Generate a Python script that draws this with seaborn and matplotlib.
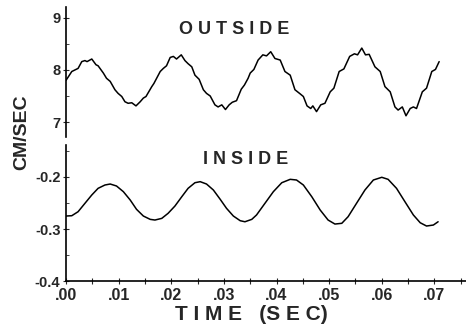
import pandas as pd
import seaborn as sns
import matplotlib.pyplot as plt
from matplotlib.ticker import MultipleLocator, FixedLocator

# Values
outside_t = [0.0000, 0.0011, 0.0019, 0.0023, 0.0030, 0.0036, 0.0040, 0.0049, 0.0057, 0.0061,
             0.0071, 0.0077, 0.0084, 0.0093, 0.0099, 0.0106, 0.0112, 0.0118, 0.0125, 0.0133,
             0.0141, 0.0147, 0.0152, 0.0163, 0.0167, 0.0179, 0.0185, 0.0191, 0.0198, 0.0204,
             0.0210, 0.0219, 0.0226, 0.0232, 0.0239, 0.0245, 0.0253, 0.0261, 0.0267, 0.0274,
             0.0283, 0.0289, 0.0296, 0.0303, 0.0310, 0.0316, 0.0324, 0.0333, 0.0339, 0.0346,
             0.0350, 0.0357, 0.0365, 0.0374, 0.0381, 0.0389, 0.0397, 0.0407, 0.0416, 0.0426,
             0.0435, 0.0445, 0.0451, 0.0458, 0.0465, 0.0469, 0.0476, 0.0484, 0.0492, 0.0502,
             0.0509, 0.0519, 0.0528, 0.0539, 0.0548, 0.0554, 0.0562, 0.0569, 0.0576, 0.0587,
             0.0597, 0.0606, 0.0616, 0.0625, 0.0631, 0.0639, 0.0646, 0.0654, 0.0660, 0.0666,
             0.0677, 0.0685, 0.0695, 0.0702, 0.0709]
outside_v = [7.80, 7.97, 8.01, 8.03, 8.16, 8.18, 8.16, 8.21, 8.10, 8.08,
             7.94, 7.84, 7.78, 7.62, 7.55, 7.49, 7.39, 7.36, 7.37, 7.31,
             7.39, 7.46, 7.49, 7.68, 7.74, 7.97, 8.03, 8.08, 8.24, 8.26,
             8.21, 8.29, 8.18, 8.12, 8.06, 7.90, 7.82, 7.62, 7.55, 7.50,
             7.33, 7.29, 7.33, 7.24, 7.33, 7.38, 7.41, 7.63, 7.71, 7.84,
             7.94, 8.01, 8.19, 8.29, 8.27, 8.35, 8.22, 8.19, 7.97, 7.90,
             7.62, 7.54, 7.49, 7.31, 7.26, 7.31, 7.20, 7.33, 7.36, 7.58,
             7.65, 7.97, 8.02, 8.26, 8.31, 8.29, 8.42, 8.29, 8.30, 8.06,
             7.97, 7.68, 7.58, 7.29, 7.23, 7.29, 7.12, 7.26, 7.29, 7.26,
             7.58, 7.65, 7.97, 8.01, 8.16]

inside_t = [0.0000, 0.0011, 0.0023, 0.0036, 0.0049, 0.0061, 0.0074, 0.0084, 0.0096, 0.0109,
            0.0122, 0.0134, 0.0147, 0.0160, 0.0169, 0.0182, 0.0194, 0.0207, 0.0220, 0.0232,
            0.0245, 0.0255, 0.0267, 0.0280, 0.0293, 0.0305, 0.0318, 0.0331, 0.0340, 0.0353,
            0.0362, 0.0378, 0.0394, 0.0410, 0.0426, 0.0438, 0.0451, 0.0467, 0.0483, 0.0498,
            0.0511, 0.0524, 0.0536, 0.0552, 0.0568, 0.0584, 0.0600, 0.0612, 0.0628, 0.0644,
            0.0660, 0.0673, 0.0685, 0.0698, 0.0707]
inside_v = [-0.275, -0.2744, -0.2667, -0.2506, -0.2346, -0.2218, -0.2154, -0.2135, -0.2173, -0.2282,
            -0.2442, -0.2621, -0.275, -0.2814, -0.2827, -0.2795, -0.2698, -0.2558, -0.2379, -0.2218,
            -0.211, -0.209, -0.2135, -0.225, -0.2429, -0.2602, -0.275, -0.284, -0.286, -0.2814,
            -0.273, -0.2506, -0.2282, -0.211, -0.2045, -0.2058, -0.2154, -0.2379, -0.2635, -0.2827,
            -0.2904, -0.289, -0.2763, -0.2506, -0.225, -0.2058, -0.2006, -0.2045, -0.2218, -0.2475,
            -0.273, -0.2879, -0.2942, -0.2923, -0.286]

x_ticks = [0.00, 0.01, 0.02, 0.03, 0.04, 0.05, 0.06, 0.07]
x_labels = ['.00', '.01', '.02', '.03', '.04', '.05', '.06', '.07']

sns.set_style("white")
plt.rcParams['font.family'] = ['Liberation Sans Narrow', 'Liberation Sans', 'DejaVu Sans']
plt.rcParams['font.weight'] = 'bold'

fig = plt.figure(figsize=(4.66, 3.28), dpi=100)
ax_top = fig.add_axes([0.1416, 0.583, 0.8584, 0.397])
ax_bot = fig.add_axes([0.1416, 0.143, 0.8584, 0.415])

df_out = pd.DataFrame({'t': outside_t, 'v': outside_v})
df_in = pd.DataFrame({'t': inside_t, 'v': inside_v})
sns.lineplot(data=df_out, x='t', y='v', ax=ax_top, color='black', lw=1.1, sort=False)
sns.lineplot(data=df_in, x='t', y='v', ax=ax_bot, color='black', lw=1.1, sort=False)

for ax in (ax_top, ax_bot):
    ax.set_xlim(0, 0.076)
    ax.set_xlabel('')
    ax.set_ylabel('')
    for s in ('top', 'right'):
        ax.spines[s].set_visible(False)
    ax.spines['left'].set_color('black')
    ax.spines['left'].set_linewidth(1.2)
    ax.patch.set_alpha(0)

ax_top.set_ylim(6.717, 9.217)
ax_top.spines['bottom'].set_visible(False)
ax_top.set_xticks([])
ax_top.set_yticks([7, 8, 9])
ax_top.yaxis.set_minor_locator(MultipleLocator(0.5))
ax_top.tick_params(axis='y', which='major', direction='inout', length=4, width=0.8,
                   labelsize=10.5, pad=2, left=True)
ax_top.tick_params(axis='y', which='minor', direction='in', length=2, width=0.6, left=True)

ax_bot.set_ylim(-0.4, -0.1385)
ax_bot.spines['bottom'].set_color('black')
ax_bot.spines['bottom'].set_linewidth(1.2)
ax_bot.set_yticks([-0.4, -0.3, -0.2])
ax_bot.set_yticklabels(['-0.4', '-0.3', '-0.2'])
ax_bot.yaxis.set_minor_locator(MultipleLocator(0.05))
ax_bot.set_xticks(x_ticks)
ax_bot.set_xticklabels(x_labels)
ax_bot.xaxis.set_minor_locator(FixedLocator([0.005 + 0.01 * i for i in range(8)]))
ax_bot.tick_params(axis='y', which='major', direction='inout', length=4, width=0.8,
                   labelsize=10.5, pad=2, left=True)
ax_bot.tick_params(axis='y', which='minor', direction='in', length=2, width=0.6, left=True)
ax_bot.tick_params(axis='x', which='both', direction='inout', length=4, width=0.8,
                   labelsize=11.5, pad=3, bottom=True)

ax_top.text(0.42, 0.82, 'O U T S I D E', transform=ax_top.transAxes,
            ha='center', va='center', fontsize=13, fontweight='bold',
            family=['Liberation Sans', 'DejaVu Sans'])
ax_bot.text(0.45, 0.895, 'I N S I D E', transform=ax_bot.transAxes,
            ha='center', va='center', fontsize=13, fontweight='bold',
            family=['Liberation Sans', 'DejaVu Sans'])

fig.text(0.54, 0.04, 'T I M E   (S E C)', ha='center', va='center', fontsize=15,
         fontweight='bold', family=['Liberation Sans', 'DejaVu Sans'])
fig.text(0.047, 0.598, 'CM/SEC', ha='center', va='center', rotation=90, fontsize=14,
         fontweight='bold', family=['Liberation Sans', 'DejaVu Sans'])

fig.savefig('out.png', dpi=100)
